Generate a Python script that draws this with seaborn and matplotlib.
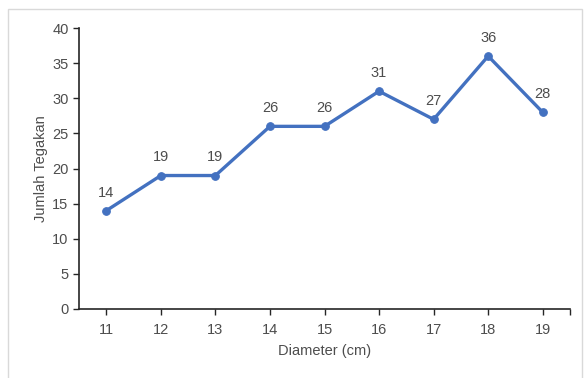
import matplotlib
matplotlib.use("Agg")
import matplotlib.pyplot as plt
import seaborn as sns
import pandas as pd
from matplotlib.patches import Rectangle

diameter = [11, 12, 13, 14, 15, 16, 17, 18, 19]
jumlah = [14, 19, 19, 26, 26, 31, 27, 36, 28]
y_ticks = [0, 5, 10, 15, 20, 25, 30, 35, 40]

df = pd.DataFrame({"Diameter (cm)": diameter, "Jumlah Tegakan": jumlah})

sns.set_theme(style="white")
plt.rcParams["font.family"] = ["Liberation Sans", "DejaVu Sans"]
text_color = "#4d4d4d"
line_color = "#4371C0"
fs = 10.5

fig = plt.figure(figsize=(5.84, 3.78), dpi=100)
fig.patch.set_facecolor("white")
fig.patches.append(Rectangle((8 / 584, -0.01), 574 / 584, 1 - 9 / 378 + 0.01,
                             transform=fig.transFigure, fill=False,
                             edgecolor="#d9d9d9", linewidth=1.0))

ax = fig.add_axes([79 / 584, 1 - 309 / 378, (570 - 79) / 584, (309 - 28) / 378])
sns.lineplot(data=df, x="Diameter (cm)", y="Jumlah Tegakan", ax=ax,
             color=line_color, linewidth=2.4, marker="o", markersize=5.5,
             markeredgecolor=line_color)

for x, y in zip(diameter, jumlah):
    ax.annotate(str(y), (x, y), xytext=(0, 8), textcoords="offset points",
                ha="center", va="bottom", fontsize=fs, color=text_color)

ax.set_xlim(diameter[0] - 0.5, diameter[-1] + 0.5)
ax.set_ylim(0, 40)
ax.set_yticks(y_ticks)
ax.set_xticks(diameter)
ax.set_xticks([diameter[-1] + 0.5], minor=True)

for side in ["top", "right"]:
    ax.spines[side].set_visible(False)
for side in ["left", "bottom"]:
    ax.spines[side].set_color("#262626")
    ax.spines[side].set_linewidth(1.2)

ax.tick_params(axis="both", which="both", direction="out", length=4, width=1,
               color="#262626", labelcolor=text_color, labelsize=fs,
               left=True, bottom=True)
ax.tick_params(axis="x", pad=6)
ax.set_xlabel("Diameter (cm)", fontsize=fs, color=text_color, labelpad=5)
ax.set_ylabel("Jumlah Tegakan", fontsize=fs, color=text_color, labelpad=3)

fig.savefig("out.png", dpi=100)
